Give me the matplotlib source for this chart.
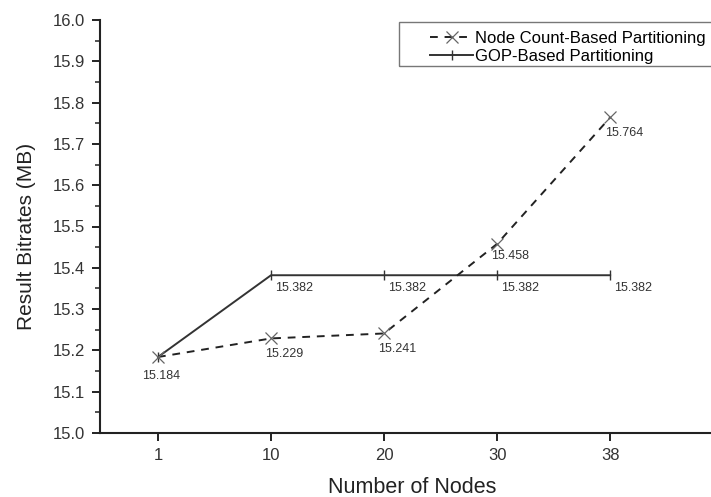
import matplotlib
matplotlib.use("Agg")
import matplotlib.pyplot as plt
from matplotlib.ticker import MultipleLocator, FormatStrFormatter
from matplotlib.patches import Rectangle

plt.rcParams['font.family'] = ['Liberation Sans', 'DejaVu Sans']

# data
nodes = ['1', '10', '20', '30', '38']
node_count = [15.184, 15.229, 15.241, 15.458, 15.764]
gop = [15.184, 15.382, 15.382, 15.382, 15.382]

# label offsets in points (dx, dy)
node_offsets = [(-11.5, -14), (-4.5, -11.5), (-4, -11), (-4, -9), (-4, -11)]
gop_offsets = [None, (3, -9), (3, -9), (3, -9), (3, -9)]

fig = plt.figure(figsize=(7.11, 4.97), dpi=100)
ax = fig.add_axes([100 / 711, 1 - 433 / 497, 1 - 100 / 711 + 0.02, 413 / 497])

x = list(range(len(nodes)))
ax.plot(x, node_count, linestyle=(0, (4, 3.5)), color='#222222', lw=1.4,
        marker='x', markersize=8.5, markeredgecolor='#666666', markeredgewidth=0.9,
        label='Node Count-Based Partitioning', zorder=3)
ax.plot(x, gop, linestyle='-', color='#333333', lw=1.4,
        marker='|', markersize=7, markeredgecolor='#333333', markeredgewidth=1.0,
        label='GOP-Based Partitioning', zorder=2)

for xi, v, off in zip(x, node_count, node_offsets):
    ax.annotate(f'{v:.3f}', (xi, v), xytext=off, textcoords='offset points',
                ha='left', va='center', fontsize=9, color='#333333')
for xi, v, off in zip(x, gop, gop_offsets):
    if off is None:
        continue
    ax.annotate(f'{v:.3f}', (xi, v), xytext=off, textcoords='offset points',
                ha='left', va='center', fontsize=9, color='#333333')

ax.set_xlim(-0.513, 5.018)
ax.set_ylim(15.0, 16.0)
ax.set_xticks(x)
ax.set_xticklabels(nodes)
ax.yaxis.set_major_locator(MultipleLocator(0.1))
ax.yaxis.set_minor_locator(MultipleLocator(0.05))
ax.yaxis.set_major_formatter(FormatStrFormatter('%.1f'))

for s in ['top', 'right']:
    ax.spines[s].set_visible(False)
for s in ['left', 'bottom']:
    ax.spines[s].set_linewidth(1.5)
    ax.spines[s].set_color('#222222')

ax.tick_params(axis='both', which='major', direction='out', length=6, width=1.4,
               labelsize=12, colors='#222222', labelcolor='#333333', pad=5)
ax.tick_params(axis='y', which='minor', direction='out', length=3.5, width=1.1, colors='#222222')
ax.tick_params(axis='x', which='minor', bottom=False)

ax.set_xlabel('Number of Nodes', fontsize=15.5, color='#222222', labelpad=10)
ax.set_ylabel('Result Bitrates (MB)', fontsize=15, color='#222222', labelpad=12)
ax.yaxis.label.set_y(0.475)

leg = ax.legend(loc='upper left', bbox_to_anchor=(430 / 711, 1 - 31 / 497),
                bbox_transform=fig.transFigure, fontsize=12, frameon=False,
                handlelength=2.6, handletextpad=0.1, labelspacing=0.15,
                borderpad=0.0, borderaxespad=0.0)
fig.patches.append(Rectangle((399 / 711, 1 - 66 / 497), 0.5, 44 / 497,
                             transform=fig.transFigure, fill=False,
                             edgecolor='#777777', lw=1.0))

fig.savefig('out.png', dpi=100)
